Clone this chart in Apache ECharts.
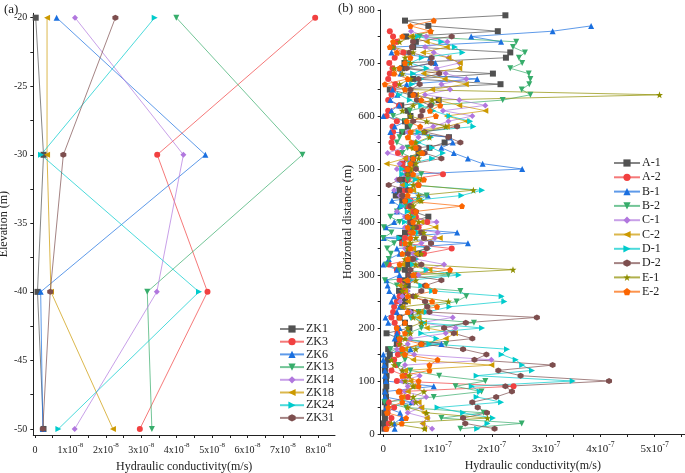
<!DOCTYPE html>
<html><head><meta charset="utf-8">
<script src="https://cdn.jsdelivr.net/npm/echarts@6/dist/echarts.min.js"></script>
<style>html,body{margin:0;padding:0;background:#fff}#c{width:685px;height:473px}</style>
</head><body><div id="c"></div>
<script>
// ---------- Panel (a): values in units of 1e-8 m/s ----------
const elevations = [-20, -30, -40, -50];
const zkNames = ['ZK1','ZK3','ZK6','ZK13','ZK14','ZK18','ZK24','ZK31'];
const zk1  = [0.02, 0.24, 0.07, 0.24];
const zk3  = [7.91, 3.45, 4.87, 2.96];
const zk6  = [0.61, 4.81, 0.16, 0.22];
const zk13 = [3.99, 7.55, 3.17, 3.30];
const zk14 = [1.13, 4.19, 3.44, 1.12];
const zk18 = [0.34, 0.34, 0.45, 2.20];
const zk24 = [3.38, 0.17, 4.63, 0.66];
const zk31 = [2.27, 0.80, 0.43, 0.22];
const aXTicks = [0,1,2,3,4,5,6,7,8];
const aYTicks = [-50,-45,-40,-35,-30,-25,-20];

// ---------- Panel (b): values in units of 1e-8 m/s ----------
const distances = [790,780,770,760,750,740,730,720,710,700,
  690,680,670,660,650,640,630,620,610,600,
  590,580,570,560,550,540,530,520,510,500,
  490,480,470,460,450,440,430,420,410,400,
  390,380,370,360,350,340,330,320,310,300,
  290,280,270,260,250,240,230,220,210,200,
  190,180,170,160,150,140,130,120,110,100,
  90,80,70,60,50,40,30,20,10];
const bNames = ['A-1','A-2','B-1','B-2','C-1','C-2','D-1','D-2','E-1','E-2'];
const a1 = [22.5,4.0,8.3,21.1,4.2,6.0,5.5,23.4,22.6,3.9,
  3.5,20.2,5.5,21.6,1.2,5.0,10.2,3.3,4.5,5.0,
  4.0,4.5,3.5,12.1,11.3,8.5,6.5,5.5,3.5,4.5,
  5.0,3.5,4.0,3.0,2.3,3.5,4.5,5.5,8.3,5.0,
  5.0,4.0,3.0,3.5,4.5,6.5,5.0,4.5,4.0,4.6,
  4.0,4.5,2.9,3.5,4.0,3.5,5.0,3.0,4.0,4.8,
  0.6,2.9,2.5,0.9,1.2,0.8,0.4,0.3,0.6,0.5,
  0.55,0.4,0.5,0.3,0.6,0.2,0.3,0.1,0.2];
const a2 = [null,null,null,1.2,1.8,2.5,1.8,3.7,2.1,1.1,
  1.7,1.2,0.9,2.2,1.8,1.5,0.9,2.9,0.9,0.6,
  2.5,1.7,1.8,1.7,1.5,1.7,2.7,4.3,3.5,4.0,
  11.0,4.5,6.5,4.0,3.5,5.0,4.5,5.5,6.0,8.1,
  6.5,5.0,4.0,3.5,12.6,7.5,5.5,1.0,2.5,6.0,
  3.0,3.5,4.0,3.0,2.5,2.0,1.8,1.5,2.1,2.5,
  2.6,3.0,2.9,3.5,2.7,2.0,2.4,1.5,4.0,2.5,
  24.0,3.0,4.5,1.0,2.0,0.8,1.5,1.0,0.5];
const b1 = [null,null,38.3,31.2,16.2,21.7,1.8,1.5,8.6,9.6,
  3.1,3.2,17.3,4.3,1.7,2.6,1.3,2.9,1.5,0.0,
  4.3,2.1,1.3,12.2,12.8,10.7,13.0,15.6,18.3,25.6,
  5.0,3.0,4.0,2.0,8.2,1.6,3.0,2.5,4.5,2.0,
  0.5,13.6,0.1,15.6,2.5,3.0,1.0,0.0,2.5,3.0,
  0.6,0.8,1.1,2.0,1.5,3.0,2.5,0.4,0.9,3.0,
  2.5,2.1,10.7,5.0,0.0,0.0,0.2,0.3,0.3,0.5,
  9.3,0.3,0.3,5.2,0.5,3.1,3.4,2.0,2.1];
const b2 = [null,null,null,null,6.7,24.5,23.9,26.1,25.0,25.6,
  23.4,26.8,27.1,26.9,25.5,27.1,22.0,9.0,4.9,1.8,
  4.0,5.0,3.5,3.0,2.5,4.5,3.5,5.5,5.0,6.0,
  7.0,4.5,3.5,5.0,8.0,6.5,4.0,2.5,1.3,3.0,
  0.1,1.5,0.0,2.0,0.7,1.4,1.0,0.6,3.0,12.0,
  0.3,2.5,14.2,15.3,13.5,8.0,6.5,5.0,16.7,7.0,
  4.5,3.0,11.6,1.3,3.5,4.0,2.8,5.0,10.3,18.8,
  13.3,18.1,9.3,0.2,4.2,18.5,10.7,25.5,14.2];
const c1 = [null,null,null,5.1,7.9,11.8,7.7,9.3,12.0,14.0,
  9.8,11.5,15.3,10.7,12.3,7.7,14.0,18.8,11.0,16.4,
  12.0,9.2,4.5,6.5,5.5,3.5,0.8,4.5,3.0,2.5,
  4.0,2.5,3.5,2.0,3.0,5.0,3.5,2.5,4.0,9.8,
  4.0,10.0,9.5,7.0,4.0,5.5,6.0,11.2,8.0,6.5,
  5.0,3.5,4.5,3.5,3.1,3.7,5.0,12.8,7.0,13.3,
  11.5,5.0,4.5,2.5,5.7,19.9,4.0,3.5,6.7,3.5,
  4.5,4.0,7.9,5.5,7.0,4.5,8.2,7.3,9.0];
const c2 = [null,null,null,null,5.0,8.0,11.7,7.3,12.0,14.1,
  14.0,7.4,11.3,15.2,9.0,6.0,10.0,14.0,18.8,11.7,
  15.3,11.7,5.0,4.5,5.5,5.0,6.5,4.0,0.6,5.0,
  4.5,6.0,3.5,5.5,4.0,6.5,5.0,4.5,5.5,7.0,
  9.6,5.0,10.4,4.5,5.5,6.0,4.5,3.5,8.5,5.5,
  4.0,3.0,4.0,5.5,4.5,3.5,7.0,6.5,7.5,8.0,
  13.2,11.5,7.0,4.0,3.5,5.5,19.9,4.0,4.5,5.0,
  5.5,4.5,3.5,6.5,7.0,7.5,8.0,7.2,7.5];
const d1 = [null,null,null,null,6.4,10.7,13.2,14.6,7.1,5.0,
  8.0,5.5,7.0,5.3,4.5,3.0,4.9,7.0,9.2,12.2,
  16.0,16.6,6.5,8.8,6.5,9.0,11.0,9.0,5.0,3.5,
  3.5,6.0,4.5,18.2,14.4,5.0,3.5,4.5,5.5,4.0,
  5.0,6.5,3.0,4.0,8.3,4.5,6.0,5.5,8.0,13.9,
  5.0,7.0,9.0,21.8,22.3,12.2,8.0,5.5,7.5,18.2,
  7.0,9.8,8.5,22.8,21.8,24.4,25.6,27.4,17.2,34.9,
  16.3,17.8,17.2,21.7,10.0,14.7,20.2,19.2,17.3];
const d2 = [null,null,null,null,12.6,5.5,5.3,4.8,8.9,8.8,
  4.3,10.3,6.5,6.7,5.0,5.8,6.2,8.7,7.2,6.9,
  5.5,13.6,7.6,12.0,14.2,6.5,7.6,10.7,5.5,6.0,
  4.5,3.0,1.0,4.5,3.5,4.0,5.0,6.0,4.5,5.0,
  6.0,7.0,7.5,8.8,8.0,4.5,5.5,7.0,5.0,4.8,
  10.7,7.7,7.0,5.5,7.7,8.1,8.5,28.3,15.2,11.2,
  13.0,16.4,7.0,14.7,19.0,16.8,31.2,21.2,25.3,41.6,
  22.5,23.7,20.8,16.4,17.4,19.1,14.7,15.1,20.5];
const e1 = [null,null,null,8.8,5.5,3.0,1.8,5.5,4.0,5.0,
  2.0,3.5,5.0,3.0,4.0,50.9,9.0,5.5,3.5,5.0,
  8.0,11.5,7.5,8.5,6.0,5.5,7.0,6.5,6.0,5.0,
  4.5,7.0,5.5,16.6,6.5,7.0,5.5,6.0,5.0,6.5,
  5.5,7.5,6.0,5.0,4.5,7.0,4.0,6.0,23.9,5.5,
  6.0,4.0,3.5,6.0,12.0,3.5,6.5,5.5,7.0,4.5,
  5.0,4.0,3.0,6.0,4.0,1.5,2.0,3.5,4.8,4.0,
  5.5,7.5,5.5,6.0,4.5,8.0,19.2,1.5,7.6];
const e2 = [null,9.3,5.0,8.7,3.5,1.8,1.2,2.5,5.0,4.0,
  3.0,2.0,4.5,0.3,4.0,5.5,7.0,10.5,8.6,9.7,
  4.3,6.8,5.0,4.5,5.2,6.0,7.2,5.5,5.0,4.5,
  5.5,7.5,6.5,5.0,4.5,4.0,14.5,6.0,4.5,5.5,
  4.5,5.5,5.0,4.0,5.0,3.5,4.5,3.0,12.3,5.5,
  4.5,8.0,9.5,4.5,9.0,9.9,4.5,3.0,4.0,2.5,
  4.0,3.0,7.0,3.5,4.0,10.0,8.5,8.5,3.5,6.5,
  6.5,2.8,3.4,3.5,0.9,0.7,4.2,3.4,0.6];
const bXTicks = [0,10,20,30,40,50];
const bYTicks = [0,100,200,300,400,500,600,700,800];

// ---------- styling ----------
const FONT = 'Liberation Serif';
const colors = ['#515151','#F14040','#1A6FDF','#37AD6B','#B177DE','#CC9900','#00CBCC','#7D4E4E','#8E8E00','#FB6501'];
const STAR = 'path://M0,-10 L2.35,-3.24 L9.51,-3.09 L3.8,1.24 L5.88,8.09 L0,4 L-5.88,8.09 L-3.8,1.24 L-9.51,-3.09 L-2.35,-3.24 Z';
const HEX = 'path://M0,-10 L8.66,-5 L8.66,5 L0,10 L-8.66,5 L-8.66,-5 Z';
const PENT = 'path://M0,-10 L9.51,-3.09 L5.88,8.09 L-5.88,8.09 L-9.51,-3.09 Z';
const symbols = [['rect',0],['circle',0],['triangle',0],['triangle',180],['diamond',0],['triangle',90],['triangle',-90],[HEX,0],[STAR,0],[PENT,0]];

function halfTicks(a, b, step){ const r=[]; for(let v=a; v<=b+1e-9; v+=step) r.push(+v.toFixed(4)); return r; }

function sciLabel(exp, div){
  return function(v){
    if (Math.abs(v) < 1e-9) return '{m|0}';
    const n = Math.round(v/div*100)/100;
    return '{m|' + n + 'x10}{s|' + exp + '}';
  };
}
function sciRich(fs){
  return {
    m: {fontFamily: FONT, fontSize: fs, color: '#222', lineHeight: fs + 3, verticalAlign: 'bottom'},
    s: {fontFamily: FONT, fontSize: fs * 0.7, color: '#222', lineHeight: fs * 0.7, verticalAlign: 'top'}
  };
}

function mkSeries(name, data, idx, axisIdx){
  return {
    type: 'line', name: name, data: data,
    xAxisIndex: axisIdx, yAxisIndex: axisIdx,
    symbol: symbols[idx][0], symbolRotate: symbols[idx][1], symbolSize: idx===8 ? 7 : 6,
    showAllSymbol: true,
    itemStyle: {color: colors[idx]},
    lineStyle: {color: colors[idx], width: 1, opacity: 0.7},
    emphasis: {disabled: true},
    animation: false
  };
}

const zkData = [zk1, zk3, zk6, zk13, zk14, zk18, zk24, zk31];
const bData = [a1, a2, b1, b2, c1, c2, d1, d2, e1, e2];
const series = [];
zkData.forEach((arr, i) => {
  series.push(mkSeries(zkNames[i], elevations.map((e, j) => [arr[j], e]), i, 0));
});
bData.forEach((arr, i) => {
  series.push(mkSeries(bNames[i], distances.map((d, j) => [arr[j], d]), i, 1));
});

const axisLine = {show: true, onZero: false, lineStyle: {color: '#222', width: 1}};
const nameStyle = {fontFamily: FONT, fontSize: 12, color: '#222'};

const option = {
  animation: false,
  backgroundColor: '#fff',
  graphic: [
    {type: 'text', left: 4, top: 3, style: {text: '(a)', font: '13px "Liberation Serif"', fill: '#222'}},
    {type: 'text', left: 338, top: 2, style: {text: '(b)', font: '13px "Liberation Serif"', fill: '#222'}}
  ],
  grid: [
    {left: 33.3, width: 301.7, top: 13.3, height: 421.7, outerBoundsMode: 'none', containLabel: false},
    {left: 380.7, width: 304.3, top: 10, height: 424, outerBoundsMode: 'none', containLabel: false}
  ],
  xAxis: [
    {type: 'value', gridIndex: 0, min: -0.048, max: 8.47,
     name: 'Hydraulic conductivity(m/s)', nameLocation: 'middle', nameGap: 26, nameTextStyle: nameStyle,
     axisLine: axisLine, splitLine: {show: false},
     axisTick: {show: true, length: 3, customValues: halfTicks(0, 8.5, 0.5), lineStyle: {color: '#222'}},
     axisLabel: {customValues: aXTicks, margin: 7, formatter: sciLabel('-8', 1), rich: sciRich(10)}},
    {type: 'value', gridIndex: 1, min: -0.48, max: 55.6,
     name: 'Hydraulic conductivity(m/s)', nameLocation: 'middle', nameGap: 26, nameTextStyle: nameStyle,
     axisLine: axisLine, splitLine: {show: false},
     axisTick: {show: true, length: 3, customValues: halfTicks(0, 55, 5), lineStyle: {color: '#222'}},
     axisLabel: {customValues: bXTicks, margin: 7, formatter: sciLabel('-7', 10), rich: sciRich(11)}}
  ],
  yAxis: [
    {type: 'value', gridIndex: 0, min: -50.44, max: -19.68,
     name: 'Elevation (m)', nameLocation: 'middle', nameGap: 22, nameTextStyle: nameStyle,
     axisLine: axisLine, splitLine: {show: false},
     axisTick: {show: true, length: 3, customValues: halfTicks(-50, -20, 2.5), lineStyle: {color: '#222'}},
     axisLabel: {customValues: aYTicks, margin: 6, fontFamily: FONT, fontSize: 10, color: '#222'}},
    {type: 'value', gridIndex: 1, min: 0, max: 800,
     name: 'Horizontal distance (m)', nameLocation: 'middle', nameGap: 24, nameTextStyle: nameStyle,
     axisLine: axisLine, splitLine: {show: false},
     axisTick: {show: true, length: 3, customValues: halfTicks(0, 800, 50), lineStyle: {color: '#222'}},
     axisLabel: {customValues: bYTicks, margin: 6, fontFamily: FONT, fontSize: 11, color: '#222'}}
  ],
  legend: [
    {data: zkNames, orient: 'vertical', left: 279, top: 323, padding: 0,
     itemWidth: 24, itemHeight: 9, itemGap: 0.7, selectedMode: false,
     textStyle: {fontFamily: FONT, fontSize: 12, color: '#222', lineHeight: 12, padding: [0,0,0,-3]}},
    {data: bNames, orient: 'vertical', left: 613, top: 157, padding: 0,
     itemWidth: 26, itemHeight: 9, itemGap: 2.3, selectedMode: false,
     textStyle: {fontFamily: FONT, fontSize: 12, color: '#222', lineHeight: 12, padding: [0,0,0,-3]}}
  ],
  series: series
};

const chart = echarts.init(document.getElementById('c'), null, {renderer: 'canvas'});
chart.setOption(option);
</script></body></html>
